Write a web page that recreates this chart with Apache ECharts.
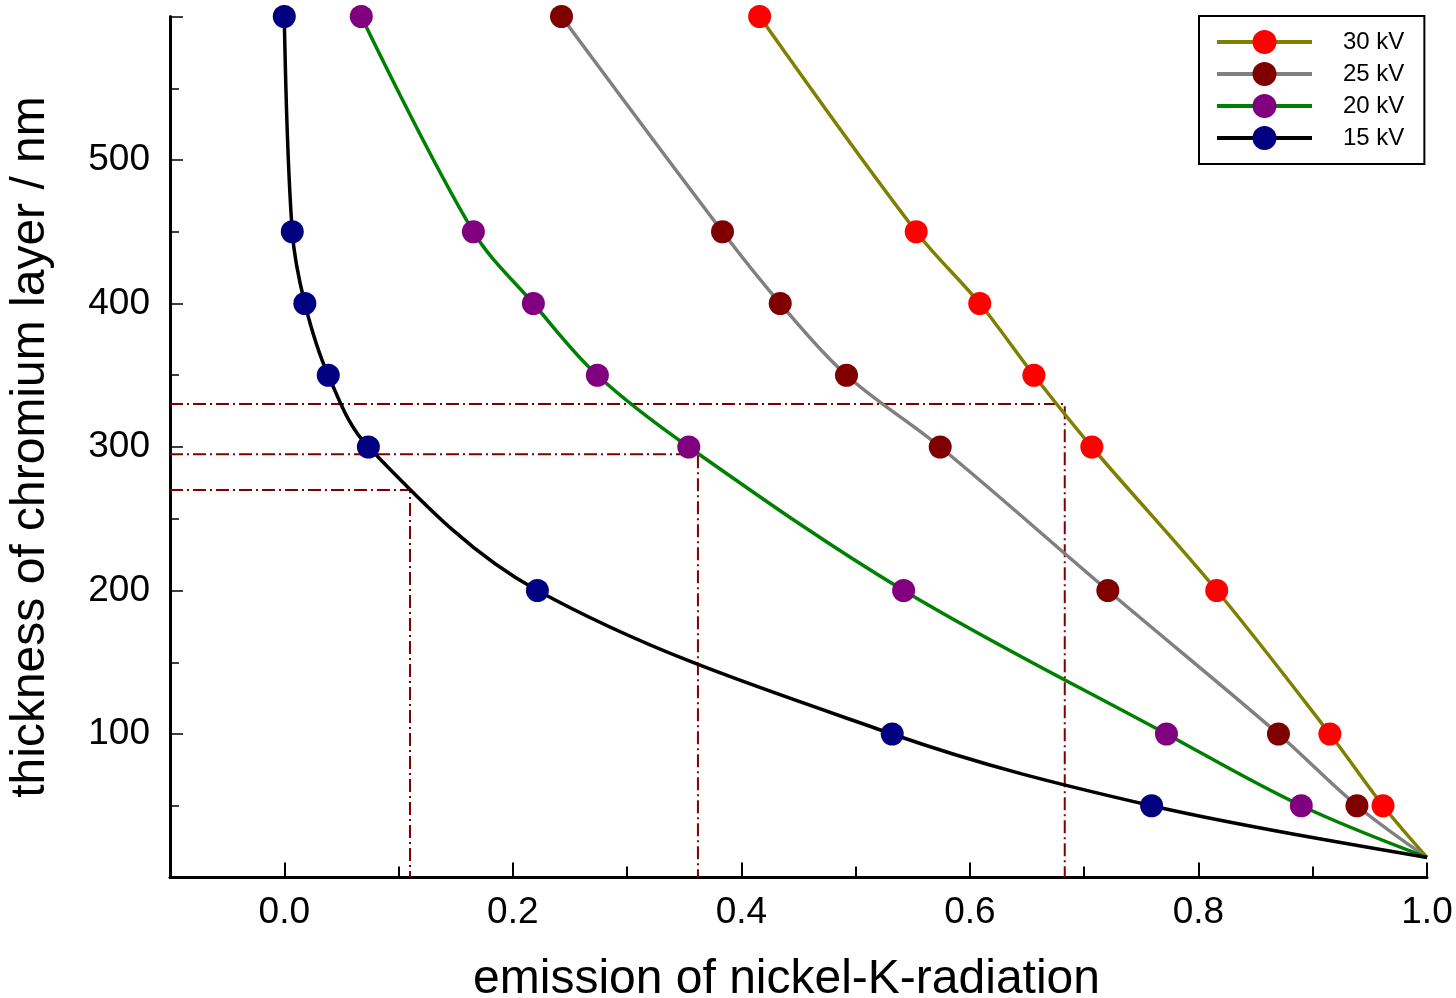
<!DOCTYPE html>
<html>
<head>
<meta charset="utf-8">
<script src="https://cdn.jsdelivr.net/npm/echarts@6/dist/echarts.min.js"></script>
<style>
html,body{margin:0;padding:0;background:#fff;}
#chart{width:1456px;height:998px;}
</style>
</head>
<body>
<div id="chart"></div>
<script>
// ---- data ----
const seriesNames = ['30 kV', '25 kV', '20 kV', '15 kV'];
const thickness = [600, 450, 400, 350, 300, 200, 100, 50];
const kv30 = [0.416, 0.553, 0.6086, 0.656, 0.7067, 0.816, 0.915, 0.9615];
const kv25 = [0.2426, 0.3835, 0.434, 0.492, 0.574, 0.7207, 0.870, 0.9387];
const kv20 = [0.0674, 0.1655, 0.218, 0.274, 0.354, 0.542, 0.772, 0.890];
const kv15 = [0.000, 0.007, 0.018, 0.0385, 0.0736, 0.2215, 0.532, 0.759];
const curveEndX = 1.0;      // all fitted curves meet here
const curveEndY = 14;
const refY = [330, 295, 270];   // dash-dot reading lines
const refX = [0.683, 0.362, 0.11];
const xMajorTicks = [0.0, 0.2, 0.4, 0.6, 0.8, 1.0];
const xMinorTicks = [0.1, 0.3, 0.5, 0.7, 0.9];
const xMin = -0.1, xMax = 1.0, yMin = 0, yMax = 600;

const lineColors = ['#808000', '#808080', '#008000', '#000000'];
const markerColors = ['#ff0000', '#800000', '#800080', '#000080'];
const allX = [kv30, kv25, kv20, kv15];

const chart = echarts.init(document.getElementById('chart'), null, {renderer: 'canvas'});
const FONT = 'Liberation Sans, Arial, sans-serif';

const series = [];
refY.forEach((y, i) => {
  series.push({
    type: 'line', name: 'ref' + i, silent: true, symbol: 'none', z: 1,
    data: [[xMin, y], [refX[i], y], [refX[i], yMin]],
    lineStyle: {color: '#800000', width: 2, type: [13, 4, 2, 4]},
    animation: false
  });
});
seriesNames.forEach((name, i) => {
  const pts = thickness.map((t, j) => [allX[i][j], t]);
  pts.push({value: [curveEndX, curveEndY], symbol: 'none'});
  series.push({
    type: 'line', name: name, smooth: 0.35, z: 3 + i,
    symbol: 'circle', symbolSize: 23, showSymbol: true,
    itemStyle: {color: markerColors[i], opacity: 1},
    lineStyle: {color: lineColors[i], width: 3.5},
    data: pts, animation: false
  });
});

chart.setOption({
  backgroundColor: '#ffffff',
  animation: false,
  grid: {left: 170, right: 29, top: 16.5, bottom: 120.5, outerBoundsMode: 'none', containLabel: false},
  legend: {
    data: seriesNames,
    left: 1199, top: 16,
    orient: 'vertical',
    itemWidth: 95, itemHeight: 30, itemGap: 8,
    padding: [14, 20, 14, 16],
    borderColor: '#000', borderWidth: 2, borderRadius: 0,
    backgroundColor: '#fff',
    lineStyle: {width: 4},
    textStyle: {fontSize: 24, color: '#000', fontFamily: FONT, padding: [0, 0, 0, 26]}
  },
  xAxis: [{
    type: 'value', min: xMin, max: xMax,
    name: 'emission of nickel-K-radiation', nameLocation: 'middle', nameGap: 78,
    nameTextStyle: {fontSize: 48, color: '#000', fontFamily: FONT, padding: [0, 24, 0, 0]},
    axisLine: {show: true, onZero: false, lineStyle: {color: '#000', width: 3}},
    axisTick: {show: true, inside: true, length: 15, lineStyle: {color: '#000', width: 2}, customValues: xMajorTicks},
    axisLabel: {fontSize: 37, color: '#000', fontFamily: FONT, margin: 17, customValues: xMajorTicks,
      formatter: v => v.toFixed(1)},
    splitLine: {show: false}
  }, {
    type: 'value', min: xMin, max: xMax, position: 'bottom',
    axisLine: {show: false},
    axisTick: {show: true, inside: true, length: 11, lineStyle: {color: '#000', width: 2}, customValues: xMinorTicks},
    axisLabel: {show: false},
    splitLine: {show: false}
  }],
  yAxis: {
    type: 'value', min: yMin, max: yMax, interval: 100,
    name: 'thickness of chromium layer / nm', nameLocation: 'middle', nameGap: 115,
    nameTextStyle: {fontSize: 48, color: '#000', fontFamily: FONT},
    axisLine: {show: true, onZero: false, lineStyle: {color: '#000', width: 3}},
    axisTick: {show: true, inside: true, length: 13, lineStyle: {color: '#000', width: 1.5}},
    minorTick: {show: true, splitNumber: 2, length: 9, lineStyle: {color: '#000', width: 1.5}},
    axisLabel: {fontSize: 37, color: '#000', fontFamily: FONT, margin: 20, showMinLabel: false, showMaxLabel: false,
      formatter: v => (v === yMin || v === yMax) ? '' : String(v)},
    splitLine: {show: false}
  },
  series: series
});
</script>
</body>
</html>
